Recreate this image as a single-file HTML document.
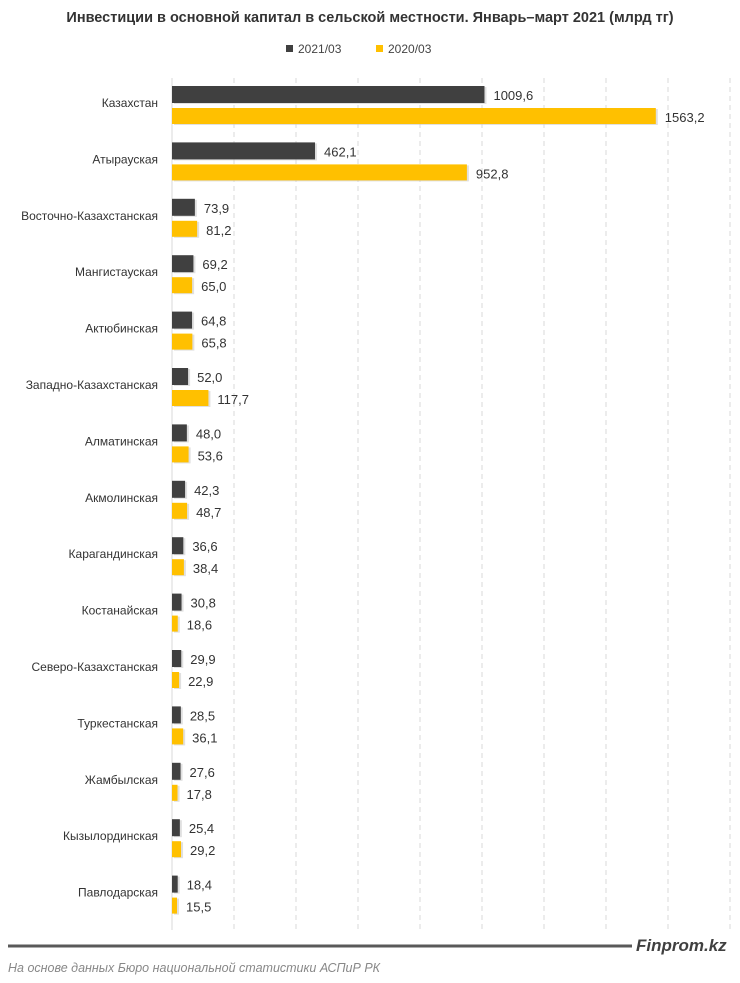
<!DOCTYPE html>
<html><head><meta charset="utf-8"><style>
body{margin:0;background:#fff;width:740px;height:978px;overflow:hidden;font-family:"Liberation Sans",sans-serif}
</style></head><body>
<svg width="740" height="978" xmlns="http://www.w3.org/2000/svg" font-family="Liberation Sans, sans-serif">
<text x="370" y="22" text-anchor="middle" font-size="14.5" font-weight="bold" fill="#333">Инвестиции в основной капитал в сельской местности. Январь–март 2021 (млрд тг)</text>
<rect x="286" y="45" width="7" height="7" fill="#404040"/>
<text x="298" y="53" font-size="12" fill="#444">2021/03</text>
<rect x="376" y="45" width="7" height="7" fill="#FFC000"/>
<text x="388" y="53" font-size="12" fill="#444">2020/03</text>
<g stroke="#d9d9d9" stroke-dasharray="5,4" stroke-width="1">
<line x1="234" y1="78" x2="234" y2="930"/><line x1="296" y1="78" x2="296" y2="930"/>
<line x1="358" y1="78" x2="358" y2="930"/><line x1="420" y1="78" x2="420" y2="930"/>
<line x1="482" y1="78" x2="482" y2="930"/><line x1="544" y1="78" x2="544" y2="930"/>
<line x1="606" y1="78" x2="606" y2="930"/><line x1="668" y1="78" x2="668" y2="930"/>
<line x1="730" y1="78" x2="730" y2="930"/>
</g>
<line x1="172" y1="78" x2="172" y2="930" stroke="#d9d9d9"/>
<g id="bars"></g>
<line x1="8" y1="946" x2="632" y2="946" stroke="#595959" stroke-width="3"/>
<text x="636" y="951" font-size="17" font-weight="bold" font-style="italic" fill="#404040">Finprom.kz</text>
<text x="8" y="972" font-size="12.5" font-style="italic" fill="#888">На основе данных Бюро национальной статистики АСПиР РК</text>
</svg>
<script>
var d=[["Казахстан",1009.6,1563.2],["Атырауская",462.1,952.8],["Восточно-Казахстанская",73.9,81.2],["Мангистауская",69.2,65.0],["Актюбинская",64.8,65.8],["Западно-Казахстанская",52.0,117.7],["Алматинская",48.0,53.6],["Акмолинская",42.3,48.7],["Карагандинская",36.6,38.4],["Костанайская",30.8,18.6],["Северо-Казахстанская",29.9,22.9],["Туркестанская",28.5,36.1],["Жамбылская",27.6,17.8],["Кызылординская",25.4,29.2],["Павлодарская",18.4,15.5]];
var g=document.getElementById("bars"),s="",k=0.3095;
function f(v){return v.toFixed(1).replace(".",",")}
d.forEach(function(r,i){var y=86+56.4*i;
var w1=Math.max(r[1]*k,5),w2=Math.max(r[2]*k,5);
s+='<text x="158" y="'+(y+21)+'" text-anchor="end" font-size="12" fill="#333">'+r[0]+'</text>';
s+='<rect x="174" y="'+(y+1)+'" width="'+w1+'" height="17" fill="#ccc" opacity="0.6"/>';
s+='<rect x="172" y="'+y+'" width="'+w1+'" height="17" fill="#404040"/>';
s+='<rect x="174" y="'+(y+23)+'" width="'+w2+'" height="16" fill="#ccc" opacity="0.6"/>';
s+='<rect x="172" y="'+(y+22)+'" width="'+w2+'" height="16" fill="#FFC000"/>';
s+='<text x="'+(172+w1+9)+'" y="'+(y+14)+'" font-size="13" fill="#333">'+f(r[1])+'</text>';
s+='<text x="'+(172+w2+9)+'" y="'+(y+36)+'" font-size="13" fill="#333">'+f(r[2])+'</text>';
});
g.innerHTML=s;
</script>
</body></html>
